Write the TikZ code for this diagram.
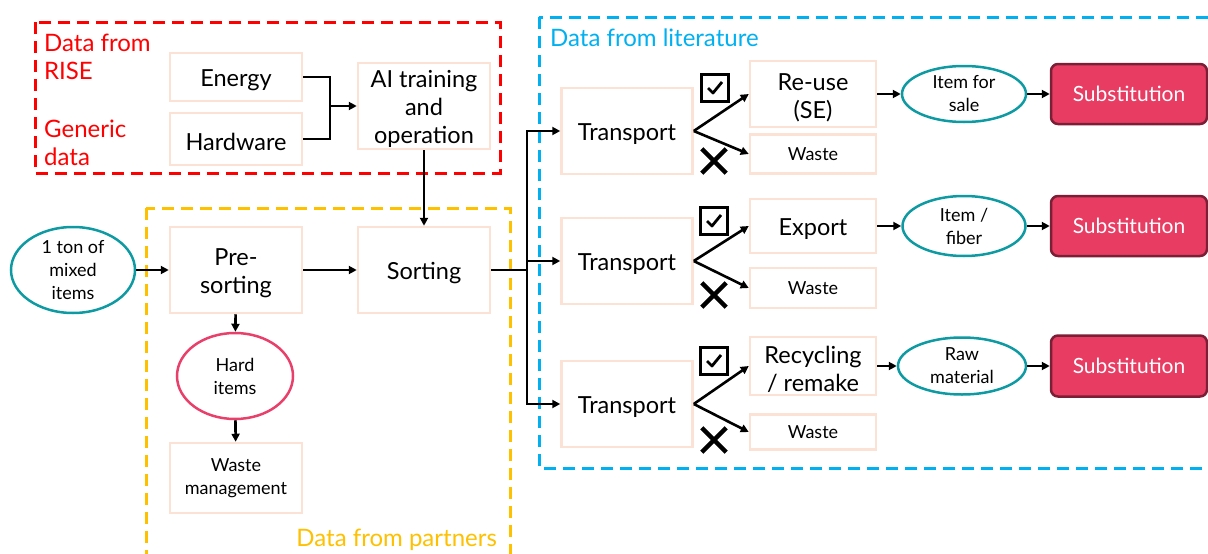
\documentclass[tikz,border=0pt]{standalone}
\usepackage{fontspec}
\setmainfont{Lato}
\usetikzlibrary{arrows.meta,shapes.geometric}

\definecolor{risered}{HTML}{FF0000}
\definecolor{litblue}{HTML}{00B0F0}
\definecolor{partneryellow}{HTML}{FFC000}
\definecolor{peach}{HTML}{FBE2D5}
\definecolor{tealline}{HTML}{0E9AA2}
\definecolor{hardpink}{HTML}{E8406A}
\definecolor{subfill}{HTML}{E83C63}
\definecolor{subline}{HTML}{7A1F35}

\tikzset{
  boxbase/.style={draw=peach, line width=2.5pt, inner sep=0pt, align=center},
  procbox/.style={boxbase, font=\fontsize{23.5}{28}\selectfont,
    execute at begin node={\rule{0pt}{#1}}},
  procbox/.default=24pt,
  smallbox/.style={boxbase, font=\fontsize{18}{23}\selectfont},
  flowitem/.style={ellipse, draw=tealline, line width=2.5pt, inner sep=0pt,
    align=center, font=\fontsize{18}{23}\selectfont},
  subbox/.style={draw=subline, fill=subfill, rounded corners=7pt, line width=2.5pt,
    inner sep=0pt, text=white, font=\fontsize{21}{25}\selectfont},
  groupframe/.style={line width=3pt, dash pattern=on 12pt off 7pt},
  grouplabel/.style={inner sep=0pt, align=left, font=\fontsize{24}{28}\selectfont},
  tickbox/.style={draw, line width=3.5pt, minimum size=27pt, inner sep=0pt},
  tickline/.style={line width=2.8pt, line join=round},
  crossmark/.style={minimum size=24pt, inner sep=0pt},
  crossline/.style={line width=4.5pt},
  link/.style={line width=2.6pt},
  flow/.style={link, -{Triangle[length=8pt,width=8pt]}}
}

\begin{document}
\begin{tikzpicture}[x=1pt, y=-1pt]
  \useasboundingbox (0,0) rectangle (1208,554);

  % data groups
  \draw[groupframe, risered] (35,22) rectangle (500,173);
  \draw[groupframe, partneryellow] (146,208) rectangle (510,580);
  \draw[groupframe, litblue] (539,17) rectangle (1230,468);
  \node[grouplabel, risered, anchor=north west] (rise) at (44,34) {Data from\\RISE};
  \node[grouplabel, risered, anchor=north west] (generic) at (44,120) {Generic\\data};
  \node[grouplabel, litblue, anchor=north west] (literature) at (550,29) {Data from literature};
  \node[grouplabel, partneryellow, anchor=north east] (partners) at (497,529) {Data from partners};

  % AI part
  \node[procbox, minimum width=132pt, minimum height=48pt] (energy) at (236,77) {Energy};
  \node[procbox, minimum width=132pt, minimum height=52pt] (hardware) at (236,139) {Hardware};
  \node[procbox=80pt, minimum width=132pt, minimum height=86pt] (ai) at (424,106) {AI training\\and\\operation};
  \coordinate (join) at (330,106);
  \draw[link] (energy.east) -| (join);
  \draw[link] (hardware.east) -| (join);
  \draw[flow] (join) -- (ai);

  % sorting at partners
  \node[flowitem, minimum width=124pt, minimum height=86pt] (mixed) at (73,270) {1 ton of\\mixed\\items};
  \node[procbox=52pt, minimum width=132pt, minimum height=86pt] (presort) at (236,270) {Pre-\\sorting};
  \node[procbox, minimum width=132pt, minimum height=86pt] (sorting) at (424,270) {Sorting};
  \node[flowitem, draw=hardpink, minimum width=116pt, minimum height=86pt] (hard) at (235,376) {Hard\\items};
  \node[smallbox, minimum width=132pt, minimum height=70pt] (wastemgmt) at (236,478) {Waste\\management};
  \draw[flow] (mixed) -- (presort);
  \draw[flow] (presort) -- (sorting);
  \draw[flow] (ai) -- (sorting);
  \draw[flow] (presort) -- (hard);
  \draw[flow] (hard) -- (wastemgmt);

  % routes
  \coordinate (split) at (527,270);
  \node[procbox, minimum width=131pt, minimum height=86pt] (transportA) at (627,131) {Transport};
  \node[procbox, minimum width=131pt, minimum height=86pt] (transportB) at (627,261) {Transport};
  \node[procbox, minimum width=131pt, minimum height=86pt] (transportC) at (627,404) {Transport};
  \draw[link] (sorting) -- (split);
  \draw[flow] (split) |- (transportA);
  \draw[flow] (split) |- (transportB);
  \draw[flow] (split) |- (transportC);

  \node[procbox=52pt, minimum width=126pt, minimum height=66pt] (reuse) at (813,94) {Re-use\\(SE)};
  \node[smallbox, minimum width=126pt, minimum height=39pt] (wasteA) at (813,154) {Waste};
  \node[procbox, minimum width=126pt, minimum height=54pt] (export) at (813,226) {Export};
  \node[smallbox, minimum width=126pt, minimum height=40pt] (wasteB) at (813,288) {Waste};
  \node[procbox=52pt, minimum width=126pt, minimum height=58pt] (recycling) at (813,366) {Recycling\\/ remake};
  \node[smallbox, minimum width=126pt, minimum height=35pt] (wasteC) at (813,432) {Waste};
  \draw[flow] (transportA.east) -- (reuse.west);
  \draw[flow] (transportA.east) -- (wasteA.west);
  \draw[flow] (transportB.east) -- (export.west);
  \draw[flow] (transportB.east) -- (wasteB.west);
  \draw[flow] (transportC.east) -- (recycling.west);
  \draw[flow] (transportC.east) -- (wasteC.west);

  \node[tickbox] (tickA) at (715,88) {};
  \node[tickbox] (tickB) at (714,221) {};
  \node[tickbox] (tickC) at (714,361) {};
  \draw[tickline] ([shift={(-7,0)}]tickA.center) -- ([shift={(-2,5)}]tickA.center) -- ([shift={(7,-6)}]tickA.center);
  \draw[tickline] ([shift={(-7,0)}]tickB.center) -- ([shift={(-2,5)}]tickB.center) -- ([shift={(7,-6)}]tickB.center);
  \draw[tickline] ([shift={(-7,0)}]tickC.center) -- ([shift={(-2,5)}]tickC.center) -- ([shift={(7,-6)}]tickC.center);
  \node[crossmark] (crossA) at (714,161) {};
  \node[crossmark] (crossB) at (714,295) {};
  \node[crossmark] (crossC) at (714,440) {};
  \draw[crossline] (crossA.north west) -- (crossA.south east) (crossA.north east) -- (crossA.south west);
  \draw[crossline] (crossB.north west) -- (crossB.south east) (crossB.north east) -- (crossB.south west);
  \draw[crossline] (crossC.north west) -- (crossC.south east) (crossC.north east) -- (crossC.south west);

  % products and substitution
  \node[flowitem, minimum width=124pt, minimum height=56pt] (sale) at (964,94) {Item for\\sale};
  \node[flowitem, minimum width=123pt, minimum height=60pt] (fiber) at (964,226) {Item /\\fiber};
  \node[flowitem, minimum width=128pt, minimum height=57pt] (raw) at (962,366) {Raw\\material};
  \node[subbox, minimum width=156pt, minimum height=60pt] (substA) at (1129,94) {Substitution};
  \node[subbox, minimum width=156pt, minimum height=60pt] (substB) at (1129,226) {Substitution};
  \node[subbox, minimum width=156pt, minimum height=61pt] (substC) at (1129,366) {Substitution};
  \draw[flow] (reuse) -- (sale);
  \draw[flow] (export) -- (fiber);
  \draw[flow] (recycling) -- (raw);
  \draw[flow] (sale) -- (substA);
  \draw[flow] (fiber) -- (substB);
  \draw[flow] (raw) -- (substC);
\end{tikzpicture}
\end{document}
